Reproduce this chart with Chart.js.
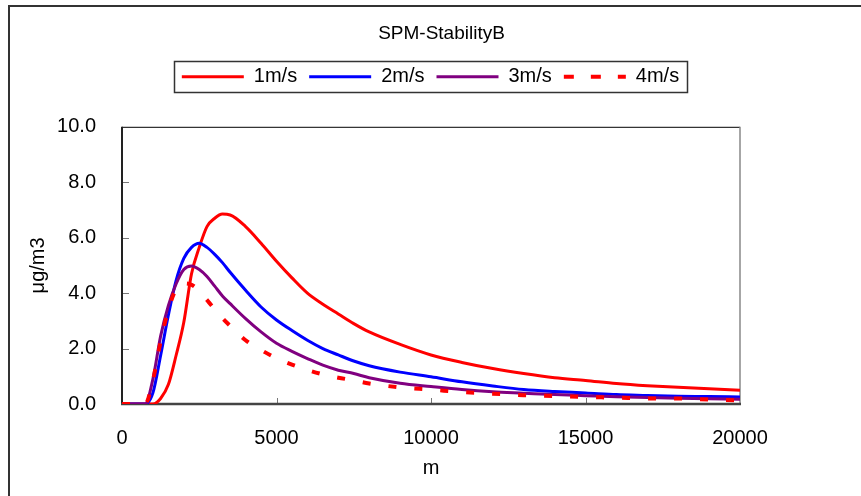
<!DOCTYPE html>
<html>
<head>
<meta charset="utf-8">
<script src="https://cdn.jsdelivr.net/npm/chart.js@4/dist/chart.umd.min.js"></script>
<style>
  html, body { margin: 0; padding: 0; background: #fff; }
  #wrap { width: 861px; height: 496px; }
</style>
</head>
<body>
<div id="wrap"><canvas id="chart"></canvas></div>
<script>
// distance from source (m)
const distances = [0, 250, 500, 750, 1000,
  1250, 1500, 1750, 2000, 2250, 2500, 2750, 3000, 3250, 3500,
  4000, 4500, 5000, 5500, 6000, 6500, 7000, 7500, 8000,
  9000, 10000, 11000, 12000, 13000, 14000, 15000, 16000, 17000, 18000, 19000, 20000];

// concentration (μg/m3) per wind speed
const wind1 = [0, 0, 0, 0, 0,
  0.2, 0.7, 1.75, 2.95, 4.7, 5.65, 6.4, 6.7, 6.85, 6.82,
  6.4, 5.8, 5.15, 4.55, 4.0, 3.6, 3.25, 2.9, 2.6,
  2.15, 1.77, 1.5, 1.28, 1.1, 0.95, 0.85, 0.74, 0.66, 0.6, 0.55, 0.5];
const wind2 = [0, 0, 0, 0, 0.4,
  1.75, 3.2, 4.45, 5.25, 5.65, 5.8, 5.65, 5.4, 5.1, 4.75,
  4.1, 3.5, 3.03, 2.65, 2.3, 2.0, 1.77, 1.55, 1.38,
  1.15, 0.98, 0.8, 0.65, 0.52, 0.45, 0.4, 0.34, 0.31, 0.28, 0.27, 0.25];
const wind3 = [0, 0, 0, 0, 0.9,
  2.45, 3.55, 4.33, 4.85, 4.98, 4.85, 4.6, 4.25, 3.9, 3.62,
  3.08, 2.6, 2.19, 1.9, 1.64, 1.4, 1.22, 1.1, 0.95,
  0.75, 0.63, 0.52, 0.44, 0.39, 0.34, 0.3, 0.26, 0.23, 0.21, 0.19, 0.17];
const wind4 = [0, 0, 0, 0, 0.85,
  2.25, 3.4, 4.15, 4.35, 4.3, 4.08, 3.75, 3.42, 3.1, 2.82,
  2.3, 1.95, 1.65, 1.42, 1.23, 1.07, 0.95, 0.85, 0.74,
  0.6, 0.52, 0.43, 0.37, 0.32, 0.29, 0.25, 0.23, 0.2, 0.2, 0.16, 0.13];

const seriesNames = ['1m/s', '2m/s', '3m/s', '4m/s'];
const xTicks = [0, 5000, 10000, 15000, 20000];
const yTicks = [0, 2, 4, 6, 8, 10];

const legendGap = 30;

function toPoints(values) {
  return distances.map((d, i) => ({ x: d, y: values[i] }));
}

// frame, inside ticks, legend box and outer border
const framePlugin = {
  id: 'frame',
  beforeLayout(chart) {
    const lg = chart.legend;
    if (lg && !lg._extraFit) {
      const fit = lg.fit;
      lg.fit = function () {
        fit.call(this);
        this.height += legendGap;
      };
      lg._extraFit = true;
    }
  },
  afterLayout(chart) {
    if (chart.titleBlock) chart.titleBlock.left += 22;
  },
  beforeDraw(chart) {
    const ctx = chart.ctx;
    ctx.save();
    ctx.fillStyle = '#fff';
    ctx.fillRect(0, 0, chart.width, chart.height);
    ctx.strokeStyle = '#333';
    ctx.lineWidth = 2;
    ctx.beginPath();
    ctx.moveTo(chart.width, 6);
    ctx.lineTo(9, 6);
    ctx.lineTo(9, chart.height);
    ctx.stroke();
    ctx.restore();
  },
  beforeDatasetsDraw(chart) {
    const ctx = chart.ctx;
    const a = chart.chartArea;
    const xs = chart.scales.x;
    const ys = chart.scales.y;
    ctx.save();
    // top
    ctx.strokeStyle = '#000';
    ctx.lineWidth = 1;
    ctx.beginPath();
    ctx.moveTo(a.left, a.top + 0.5);
    ctx.lineTo(a.right, a.top + 0.5);
    ctx.stroke();
    // right
    ctx.strokeStyle = '#888';
    ctx.lineWidth = 1.5;
    ctx.beginPath();
    ctx.moveTo(a.right, a.top);
    ctx.lineTo(a.right, a.bottom);
    ctx.stroke();
    // inside ticks
    ctx.strokeStyle = '#777';
    ctx.lineWidth = 1;
    ctx.beginPath();
    xTicks.slice(1, -1).forEach(v => {
      const px = Math.round(xs.getPixelForValue(v)) + 0.5;
      ctx.moveTo(px, a.bottom);
      ctx.lineTo(px, a.bottom - 6);
    });
    yTicks.slice(1, -1).forEach(v => {
      const py = Math.round(ys.getPixelForValue(v)) + 0.5;
      ctx.moveTo(a.left, py);
      ctx.lineTo(a.left + 7, py);
    });
    ctx.stroke();
    // left axis
    ctx.strokeStyle = '#222';
    ctx.lineWidth = 2;
    ctx.beginPath();
    ctx.moveTo(a.left, a.top);
    ctx.lineTo(a.left, a.bottom);
    ctx.stroke();
    // bottom axis
    ctx.strokeStyle = '#444';
    ctx.lineWidth = 2.5;
    ctx.beginPath();
    ctx.moveTo(a.left - 1, a.bottom);
    ctx.lineTo(a.right + 1, a.bottom);
    ctx.stroke();
    ctx.restore();
  },
  afterDraw(chart) {
    const lg = chart.legend;
    if (!lg || !lg.legendHitBoxes || !lg.legendHitBoxes.length) return;
    const boxes = lg.legendHitBoxes;
    const first = boxes[0];
    const last = boxes[boxes.length - 1];
    const x0 = first.left - 8;
    const x1 = last.left + last.width + 8;
    const y0 = first.top - 6;
    const y1 = first.top + first.height + 5;
    const ctx = chart.ctx;
    ctx.save();
    ctx.strokeStyle = '#333';
    ctx.lineWidth = 1.5;
    ctx.strokeRect(Math.round(x0) + 0.5, Math.round(y0) + 0.5, Math.round(x1 - x0), Math.round(y1 - y0));
    ctx.restore();
  }
};

Chart.defaults.font.family = '"Liberation Sans", Arial, sans-serif';
Chart.defaults.color = '#000';

new Chart(document.getElementById('chart'), {
  type: 'line',
  data: {
    datasets: [
      { label: seriesNames[0], data: toPoints(wind1), borderColor: '#ff0000', borderWidth: 3, order: 4 },
      { label: seriesNames[1], data: toPoints(wind2), borderColor: '#0000ff', borderWidth: 3, order: 3 },
      { label: seriesNames[2], data: toPoints(wind3), borderColor: '#800080', borderWidth: 3, order: 2 },
      { label: seriesNames[3], data: toPoints(wind4), borderColor: '#ff0000', borderWidth: 4,
        borderDash: [8, 18], borderCapStyle: 'butt', order: 1 }
    ]
  },
  options: {
    responsive: true,
    maintainAspectRatio: false,
    animation: false,
    layout: { padding: 0 },
    elements: {
      point: { radius: 0, hoverRadius: 0 },
      line: { cubicInterpolationMode: 'monotone', fill: false }
    },
    plugins: {
      tooltip: { enabled: false },
      title: {
        display: true,
        text: 'SPM-StabilityB',
        color: '#000',
        font: { size: 19, weight: 'normal' },
        padding: { top: 22, bottom: 10 }
      },
      legend: {
        display: true,
        reverse: true,
        labels: {
          usePointStyle: true,
          pointStyle: 'line',
          pointStyleWidth: 62,
          boxHeight: 20,
          padding: 12,
          color: '#000',
          font: { size: 20 },
          generateLabels: function (chart) {
            const items = Chart.defaults.plugins.legend.labels.generateLabels(chart);
            items.forEach(item => {
              const ds = chart.data.datasets[item.datasetIndex];
              item.lineDash = ds.borderDash ? [10, 17] : [];
              item.lineWidth = ds.borderWidth;
              item.lineCap = 'butt';
            });
            return items;
          }
        }
      }
    },
    scales: {
      x: {
        type: 'linear',
        min: 0,
        max: 20000,
        afterFit: s => { s.height = 92; },
        afterBuildTicks: s => { s.ticks = xTicks.map(v => ({ value: v })); },
        grid: { display: false, drawTicks: false },
        border: { display: false },
        ticks: {
          padding: 22,
          maxRotation: 0,
          font: { size: 20 },
          callback: v => String(v)
        },
        title: {
          display: true,
          text: 'm',
          font: { size: 20 },
          padding: { top: 0, bottom: 16 }
        }
      },
      y: {
        min: 0,
        max: 10,
        afterFit: s => { s.width = 122; },
        afterBuildTicks: s => { s.ticks = yTicks.map(v => ({ value: v })); },
        grid: { display: false, drawTicks: false },
        border: { display: false },
        ticks: {
          padding: 26,
          font: { size: 20 },
          callback: v => v.toFixed(1)
        },
        title: {
          display: true,
          text: 'μg/m3',
          font: { size: 20 },
          padding: { top: 26, bottom: 0 }
        }
      },
      // empty right-hand margin so the plot ends at the same place
      yRight: {
        position: 'right',
        min: 0,
        max: 10,
        afterFit: s => { s.width = 121; },
        grid: { display: false, drawTicks: false },
        border: { display: false },
        ticks: { display: false }
      }
    }
  },
  plugins: [framePlugin]
});
</script>
</body>
</html>
